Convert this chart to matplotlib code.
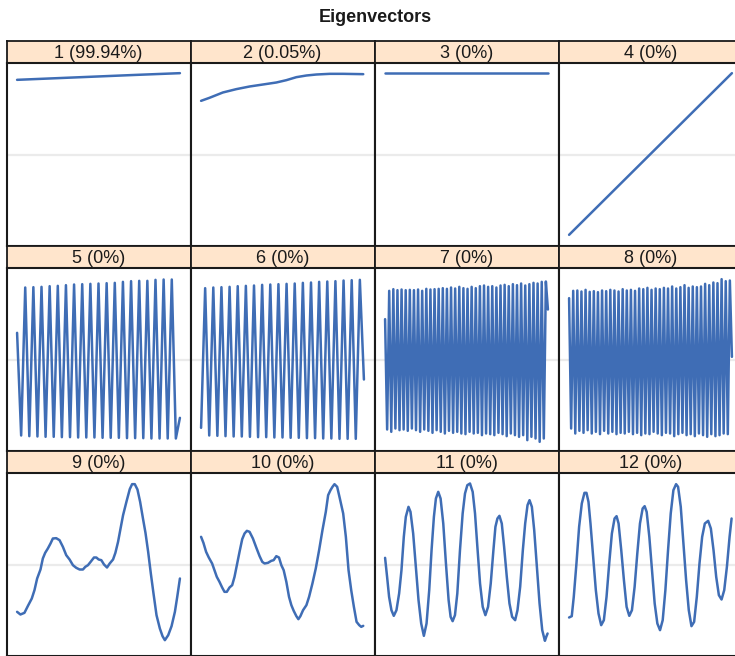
import numpy as np
import matplotlib
matplotlib.use("Agg")
import matplotlib.pyplot as plt

plt.rcParams['font.family'] = ['Liberation Sans', 'DejaVu Sans']

TITLE = "Eigenvectors"
labels = ["1 (99.94%)", "2 (0.05%)", "3 (0%)", "4 (0%)",
          "5 (0%)", "6 (0%)", "7 (0%)", "8 (0%)",
          "9 (0%)", "10 (0%)", "11 (0%)", "12 (0%)"]

LAG_MAX = 487

# ---- panel 1..4 (smooth) ----
ev1_lag = [0, 120, 240, 360, 487]
ev1_val = [224, 229, 234, 239, 244]

ev2_lag = [0, 25, 65, 105, 145, 185, 225, 255, 285, 315, 345, 385, 425, 485]
ev2_val = [161, 170, 186, 196, 204, 210, 216, 223, 232, 237, 240, 242, 242, 241]

ev3_lag = [0, 487]
ev3_val = [244, 244]

ev4_lag = [0, 487]
ev4_val = [-241, 244]

# ---- panels 5..8 (fast oscillations: start, alternating extremes, end) ----
ev5_start, ev5_end = 80, -175
ev5_peaks = [216, 217, 218, 220, 221, 223, 225, 226, 227, 228, 229, 230, 233,
             235, 236, 236, 239, 240, 240]
ev5_troughs = [-228, -230, -231, -232, -232, -233, -233, -234, -234, -234,
               -235, -235, -235, -236, -236, -236, -237, -237, -237, -237]

ev6_start, ev6_end = -205, -60
ev6_peaks = [214, 216, 217, 218, 220, 221, 222, 224, 225, 226, 227, 228, 230,
             231, 233, 234, 235, 237, 238, 239]
ev6_troughs = [-228, -229, -230, -231, -231, -232, -233, -233, -234, -234,
               -235, -235, -236, -236, -237, -237, -238, -238, -238]

ev7_start, ev7_end = 121, 150
ev7_peaks = [206, 211, 208, 210, 208, 209, 208, 210, 206, 212, 210, 211, 212,
             214, 212, 216, 213, 218, 214, 212, 218, 214, 220, 222, 218, 220,
             216, 222, 224, 220, 226, 223, 228, 222, 226, 230, 228, 233, 234]
ev7_troughs = [-210, -217, -207, -212, -210, -214, -207, -212, -217, -210,
               -214, -220, -212, -217, -222, -214, -220, -217, -222, -224,
               -217, -222, -220, -227, -222, -224, -227, -220, -224, -230,
               -222, -227, -232, -227, -242, -232, -237, -247, -237]

ev8_start, ev8_end = 184, 8
ev8_peaks = [206, 207, 204, 209, 203, 205, 202, 207, 205, 209, 207, 204, 211,
             207, 209, 206, 213, 211, 215, 209, 213, 211, 215, 213, 219, 213,
             217, 223, 215, 219, 217, 219, 227, 223, 231, 229, 241, 235, 237]
ev8_troughs = [-207, -222, -214, -220, -212, -222, -217, -224, -214, -222,
               -217, -224, -220, -222, -217, -224, -220, -227, -222, -224,
               -217, -222, -227, -220, -222, -230, -224, -220, -227, -224,
               -230, -222, -227, -232, -224, -230, -227, -222, -224]

# ---- panels 9..12 (slow) ----
ev9_lag = [0, 10, 22, 32, 44, 52, 60, 70, 77, 84, 92, 100, 107, 117, 127, 137,
           147, 157, 167, 177, 187, 197, 204, 212, 220, 230, 237, 244, 252, 260,
           269, 277, 287, 294, 302, 310, 317, 327, 337, 344, 352, 360, 368, 377,
           384, 392, 400, 408, 417, 427, 435, 442, 452, 462, 472, 479, 487]
ev9_val = [-142, -150, -145, -125, -102, -77, -42, -15, 18, 35, 48, 63, 78, 79,
           73, 53, 28, 15, -2, -10, -15, -15, -7, -2, 8, 21, 21, 15, 13, 0, -9,
           3, 15, 35, 68, 111, 148, 188, 226, 241, 241, 225, 188, 135, 95, 38,
           -27, -87, -152, -192, -215, -227, -212, -185, -142, -97, -42]

ev10_lag = [0, 7, 15, 23, 33, 40, 47, 55, 63, 70, 77, 85, 93, 100, 107, 115,
            123, 130, 137, 145, 155, 165, 175, 183, 190, 200, 210, 217, 225,
            233, 240, 247, 255, 263, 270, 277, 285, 291, 297, 305, 315, 323,
            333, 343, 353, 363, 373, 380, 387, 393, 399, 407, 415, 425, 433,
            441, 449, 457, 465, 473, 479, 485]
ev10_val = [83, 65, 38, 21, 3, -17, -37, -52, -69, -82, -82, -69, -62, -37, -2,
            38, 76, 93, 101, 98, 78, 51, 25, 8, 3, 5, 11, 13, 25, 21, -2, -17,
            -52, -97, -122, -139, -155, -164, -155, -137, -122, -97, -57, -12,
            43, 103, 158, 208, 223, 233, 241, 233, 198, 153, 83, -17, -77,
            -127, -172, -182, -187, -184]

ev11_x = [36, 42, 48, 55, 62, 70, 78, 85, 92, 98, 106, 112, 120, 128, 136, 144,
          152, 160, 168, 175, 182, 188, 195, 202, 210, 218, 226, 232, 238, 245,
          252, 260, 268, 275, 282, 290, 298, 305, 312, 320, 328, 336, 344, 352,
          360, 366, 372, 378, 385, 392, 400, 408, 416, 425, 432, 440, 448, 455,
          462, 468, 475, 482, 490, 498, 506, 514, 518, 522]
ev11_y = [263, 320, 380, 420, 437, 420, 370, 300, 200, 140, 110, 125, 190, 290,
          390, 460, 497, 460, 360, 240, 140, 85, 65, 85, 160, 280, 390, 440,
          453, 435, 370, 240, 130, 70, 45, 40, 65, 130, 230, 340, 410, 435,
          410, 340, 240, 170, 145, 137, 160, 230, 320, 400, 440, 450, 420, 350,
          240, 160, 105, 90, 110, 180, 290, 400, 480, 512, 500, 490]

ev12_x = [36, 44, 50, 58, 66, 74, 82, 88, 94, 100, 108, 116, 124, 132, 140, 148,
          156, 164, 172, 178, 184, 192, 200, 208, 216, 224, 232, 240, 248, 256,
          262, 268, 276, 284, 292, 300, 308, 316, 324, 332, 340, 348, 356, 362,
          370, 378, 386, 394, 402, 410, 418, 426, 434, 442, 452, 460, 468, 476,
          484, 492, 500, 508, 516, 522]
ev12_y = [442, 438, 380, 280, 170, 100, 68, 68, 95, 160, 260, 360, 430, 465,
          450, 380, 280, 190, 145, 138, 160, 240, 330, 410, 437, 420, 350, 250,
          160, 115, 108, 125, 200, 300, 400, 460, 480, 450, 360, 240, 130, 60,
          42, 50, 110, 220, 330, 420, 468, 455, 380, 280, 200, 160, 152, 175,
          240, 320, 375, 388, 360, 290, 200, 145]


def alt_series(start, first, second, end):
    out = [start]
    for a, b in zip(first, second):
        out += [a, b]
    if len(first) > len(second):
        out.append(first[-1])
    out.append(end)
    return out


series = [
    (ev1_lag, ev1_val), (ev2_lag, ev2_val), (ev3_lag, ev3_val), (ev4_lag, ev4_val),
]
s5 = alt_series(ev5_start, ev5_troughs, ev5_peaks, ev5_end)
s6 = alt_series(ev6_start, ev6_peaks, ev6_troughs, ev6_end)
s7 = alt_series(ev7_start, ev7_troughs, ev7_peaks, ev7_end)
s8 = alt_series(ev8_start, ev8_troughs, ev8_peaks, ev8_end)
for s in (s5, s6, s7, s8):
    series.append((np.linspace(0, LAG_MAX, len(s)), s))
series.append((ev9_lag, ev9_val))
series.append((ev10_lag, ev10_val))
series.append((np.array(ev11_x) - 36, 283 - np.array(ev11_y)))
series.append((np.array(ev12_x) - 36, 283 - np.array(ev12_y)))

W, H = 735, 656
fig = plt.figure(figsize=(W / 100, H / 100), dpi=100)
fig.patch.set_facecolor('white')


def rect(x0, y0, w, h):
    return [x0 / W, 1 - (y0 + h) / H, w / W, h / H]


LINE = '#3F6DB5'
BORDER = '#1a1a1a'
COLW = 184
STRIP_H = 22
PANEL_H = 183
ROW_H = STRIP_H + PANEL_H
X0, Y0 = 6.5, 41
pad = LAG_MAX * 0.065

for i, (lab, (xs, ys)) in enumerate(zip(labels, series)):
    r, c = divmod(i, 4)
    x0 = X0 + COLW * c
    ys0 = Y0 + ROW_H * r
    sax = fig.add_axes(rect(x0, ys0, COLW, STRIP_H))
    sax.set_facecolor('#FFE5CC')
    sax.set_xticks([]); sax.set_yticks([])
    for sp in sax.spines.values():
        sp.set_linewidth(1.3); sp.set_color(BORDER)
    sax.text(0.5, 0.45, lab, ha='center', va='center', fontsize=13,
             color='#1a1a1a', transform=sax.transAxes)

    ax = fig.add_axes(rect(x0, ys0 + STRIP_H, COLW, PANEL_H))
    ax.axhline(0, color='#EBEBEB', lw=1.6, zorder=0)
    ax.plot(xs, ys, color=LINE, lw=1.8, solid_joinstyle='round',
            solid_capstyle='round')
    ax.set_xlim(-pad, LAG_MAX + pad)
    ax.set_ylim(-274.5, 274.5)
    ax.set_xticks([]); ax.set_yticks([])
    for sp in ax.spines.values():
        sp.set_linewidth(1.5); sp.set_color(BORDER)

fig.text(375 / W, 1 - 17 / H, TITLE, ha='center', va='center',
         fontsize=13, fontweight='bold', color='#1a1a1a')

fig.savefig('out.png', dpi=100)
